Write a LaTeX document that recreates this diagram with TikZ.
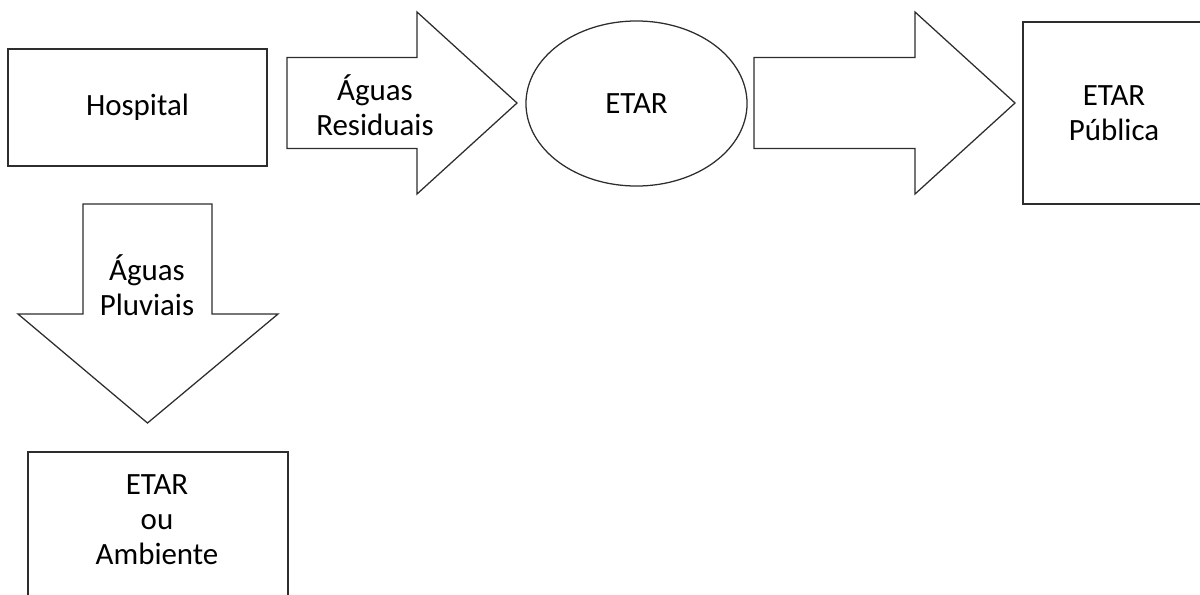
\documentclass[tikz,border=0pt]{standalone}
\usepackage{fontspec}
\setmainfont{Carlito}
\usetikzlibrary{positioning,shapes.geometric}
\definecolor{flowline}{RGB}{45,45,45}

\begin{document}
\begin{tikzpicture}[x=0.025cm, y=-0.025cm, every node/.style={font=\fontsize{22}{25}\selectfont, align=center},
    boxnode/.style={draw=flowline, line width=0.9pt, minimum width=#1},
    blockarrow/.style={draw=flowline, line width=0.9pt, line join=miter}]
    \useasboundingbox (0,0) rectangle (1200,594);

    % Boxes and plant
    \node[boxnode=6.475cm, minimum height=2.925cm] (hosp) at (137.5,107.5) {Hospital};
    \node[draw=flowline, line width=0.9pt, ellipse, minimum width=5.525cm, minimum height=4.125cm] (etar) at (636.5,103.5) {ETAR};
    \node[boxnode=4.55cm, minimum height=4.55cm] (pub) at (1114,113) {};
    \node (pubtxt) at (1114,113) {ETAR\\Pública};
    \node[boxnode=6.5cm, minimum height=3.7cm] (env) at (158,526) {};
    \node (envtxt) at (157,520) {ETAR\\ou\\Ambiente};

    % Block arrows
    \draw[blockarrow] (287,57.5) -- (417,57.5) -- (417,12) -- (517,103) -- (417,194) -- (417,148.5) -- (287,148.5) -- cycle;
    \node (resid) at (375,105) {Águas\\Residuais};
    \draw[blockarrow] (754,57.5) -- (915,57.5) -- (915,12) -- (1015,103) -- (915,194) -- (915,148.5) -- (754,148.5) -- cycle;
    \draw[blockarrow] (83,204) -- (212,204) -- (212,314) -- (278,314) -- (147.5,423) -- (18,314) -- (83,314) -- cycle;
    \node (pluv) at (147,285) {Águas\\Pluviais};
\end{tikzpicture}
\end{document}
